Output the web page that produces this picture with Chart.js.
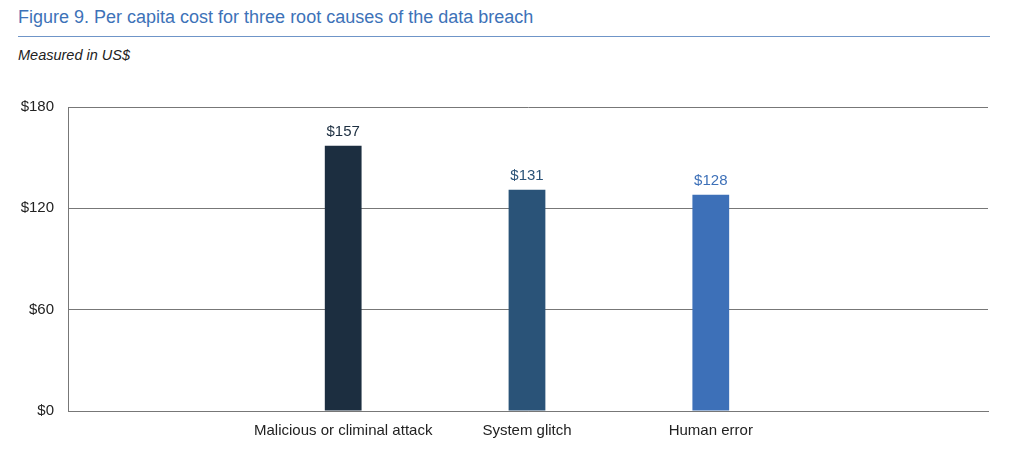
<!DOCTYPE html>
<html>
<head>
<meta charset="utf-8">
<script src="https://cdn.jsdelivr.net/npm/chart.js@4"></script>
<style>
  body { margin: 0; width: 1013px; height: 455px; background: #fff; font-family: "Liberation Sans", Arial, sans-serif; overflow: hidden; }
  #title { position: absolute; left: 18px; top: 7px; font-size: 18px; color: #3d72b8; }
  #rule { position: absolute; left: 18px; top: 36px; width: 972px; height: 1px; background: #6f95c8; }
  #sub { position: absolute; left: 18px; top: 47px; font-size: 14.5px; font-style: italic; color: #222; }
  #wrap { position: absolute; left: 0; top: 70px; width: 1000px; height: 385px; }
</style>
</head>
<body>
<div id="title">Figure 9. Per capita cost for three root causes of the data breach</div>
<div id="rule"></div>
<div id="sub">Measured in US$</div>
<div id="wrap"><canvas id="c"></canvas></div>
<script>
// chart values
const causes = ['Malicious or climinal attack', 'System glitch', 'Human error'];
const costs = [157, 131, 128];
const barColors = ['#1c2e40', '#2a5378', '#3d70b8'];
const yTicks = [0, 60, 120, 180];

const font = { size: 15, family: '"Liberation Sans", Arial, sans-serif' };

// writes $ value above each bar in the bar's colour
const valueLabels = {
    id: 'valueLabels',
    afterDatasetsDraw(chart) {
        const ctx = chart.ctx;
        const meta = chart.getDatasetMeta(0);
        ctx.save();
        ctx.font = '15px "Liberation Sans", Arial, sans-serif';
        ctx.textAlign = 'center';
        ctx.textBaseline = 'bottom';
        meta.data.forEach((bar, i) => {
            ctx.fillStyle = barColors[i];
            ctx.fillText('$' + costs[i], bar.x, bar.y - 6);
        });
        ctx.restore();
    }
};

const ctx = document.getElementById('c').getContext('2d');
new Chart(ctx, {
    type: 'bar',
    data: {
        datasets: [{
            data: costs.map((v, i) => ({ x: i, y: v })),
            backgroundColor: barColors,
            barPercentage: 0.2,
            categoryPercentage: 1
        }]
    },
    options: {
        responsive: true,
        maintainAspectRatio: false,
        animation: false,
        layout: { padding: { top: 37, right: 12, bottom: 12 } },
        plugins: { legend: { display: false }, tooltip: { enabled: false } },
        scales: {
            x: {
                type: 'linear',
                min: -0.663, max: 2.674,
                afterBuildTicks: axis => { axis.ticks = causes.map((c, i) => ({ value: i })); },
                grid: { display: false },
                border: { color: '#777' },
                ticks: { color: '#222', callback: v => causes[v], font: font }
            },
            y: {
                min: 0, max: 180,
                afterBuildTicks: axis => { axis.ticks = yTicks.map(v => ({ value: v })); },
                afterFit: axis => { axis.width = 68; },
                grid: { color: '#777', drawTicks: false },
                border: { color: '#777' },
                ticks: { color: '#222', padding: 14, callback: v => '$' + v, font: font }
            }
        }
    },
    plugins: [valueLabels]
});
</script>
</body>
</html>
